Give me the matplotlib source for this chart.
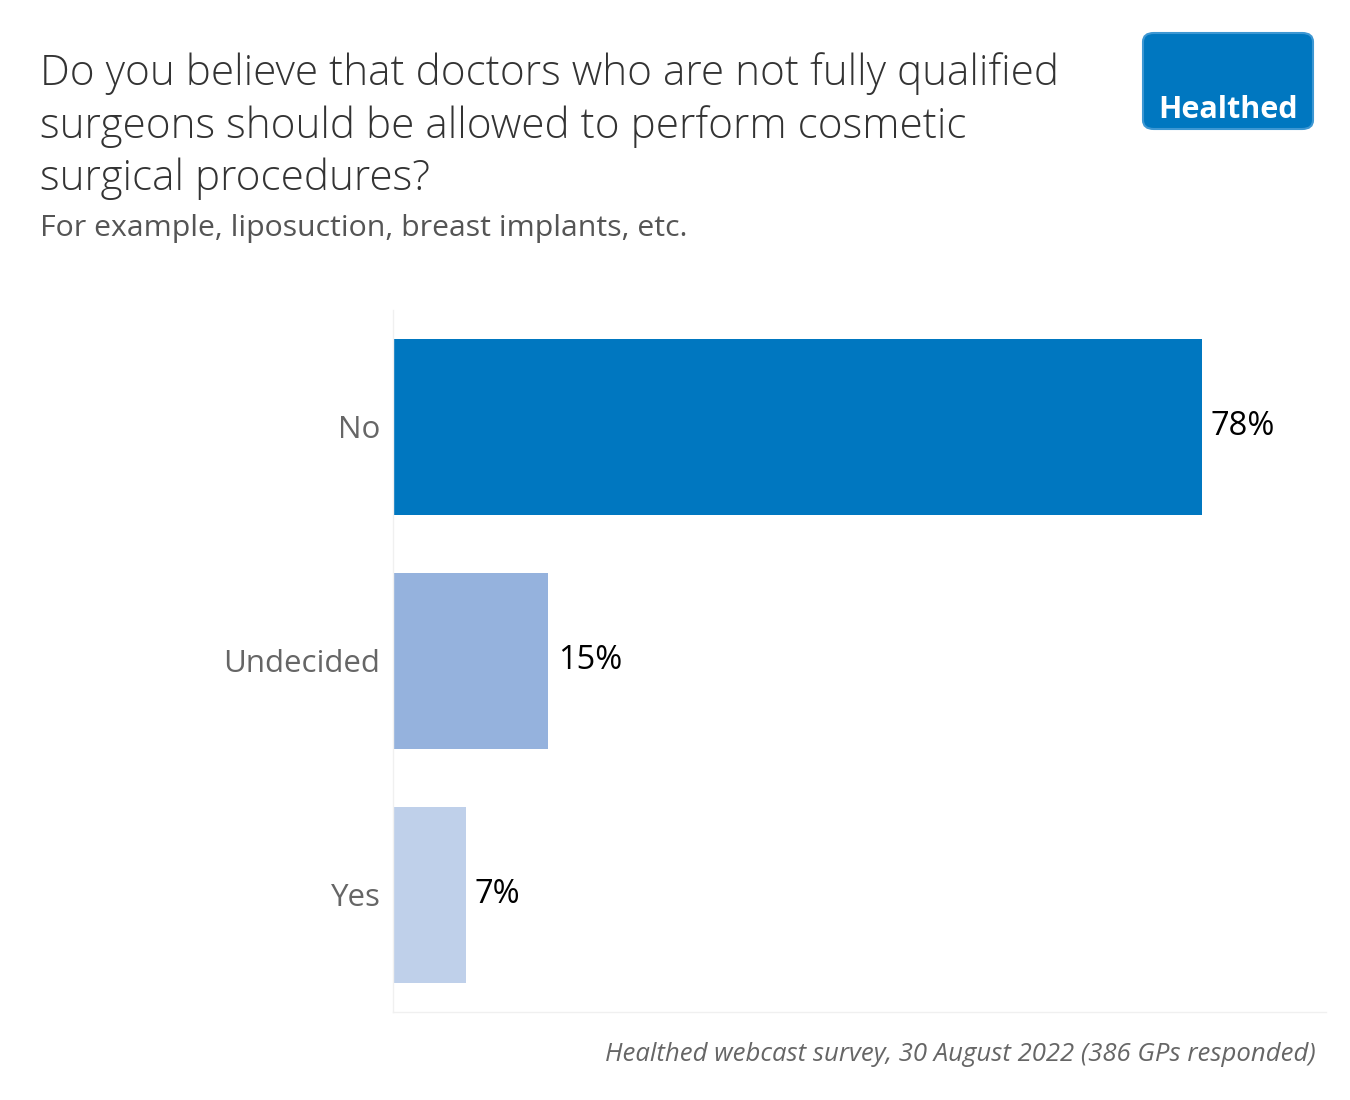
import matplotlib.pyplot as plt
from matplotlib.patches import FancyBboxPatch

plt.rcParams['font.family'] = ['Open Sans', 'DejaVu Sans']

categorie = ["No", "Undecided", "Yes"]
percentuali = [78, 15, 7]
colori = ["#0077C0", "#95B2DD", "#BFD0EA"]
etichette = ["78%", "15%", "7%"]

titolo = ("Do you believe that doctors who are not fully qualified\n"
          "surgeons should be allowed to perform cosmetic\n"
          "surgical procedures?")
sottotitolo = "For example, liposuction, breast implants, etc."
fonte = "Healthed webcast survey, 30 August 2022 (386 GPs responded)"

figura = plt.figure(figsize=(13.5, 11), dpi=100)
cella = figura.add_axes([0.2911, 0.08, 0.6911, 0.6382])

posizioni = list(range(len(categorie)))
cella.barh(posizioni, percentuali, height=0.75, color=colori)
for pos, val, testo in zip(posizioni, percentuali, etichette):
    cella.text(val + 0.9, pos, testo, va="center", ha="left", fontsize=23.5, color="black")

cella.set_xlim(0, 90)
cella.set_ylim(2.5, -0.5)
cella.set_yticks(posizioni)
cella.set_yticklabels(categorie, fontsize=22.5, color="#666666")
cella.tick_params(axis="y", length=0, pad=9)
cella.set_xticks([])
for lato in ["top", "right"]:
    cella.spines[lato].set_visible(False)
for lato in ["left", "bottom"]:
    cella.spines[lato].set_color("#f0f0f0")
    cella.spines[lato].set_linewidth(1)

# titolo e sottotitolo
figura.text(40 / 1350, 1 - 190 / 1100, titolo, fontsize=30.4, color="#333333",
            va="baseline", ha="left", linespacing=1.3, fontweight="light")
figura.text(40 / 1350, 1 - 236 / 1100, sottotitolo, fontsize=21.8, color="#555555",
            va="baseline", ha="left")

# fonte in basso a destra
figura.text(1316 / 1350, 1 - 1061 / 1100, fonte, fontsize=18.5, color="#666666",
            style="italic", va="baseline", ha="right")

# logo semplificato
logo = FancyBboxPatch((1143 / 1350, 1 - 129 / 1100), 170 / 1350, 96 / 1100,
                      boxstyle="round,pad=0,rounding_size=0.008",
                      transform=figura.transFigure, facecolor="#0077C0",
                      edgecolor="#3d97d3", linewidth=1.5)
figura.patches.append(logo)
figura.text(1228 / 1350, 1 - 118 / 1100, "Healthed", fontsize=22, color="white",
            fontweight="bold", ha="center", va="baseline")

figura.savefig("out.png", dpi=100)
